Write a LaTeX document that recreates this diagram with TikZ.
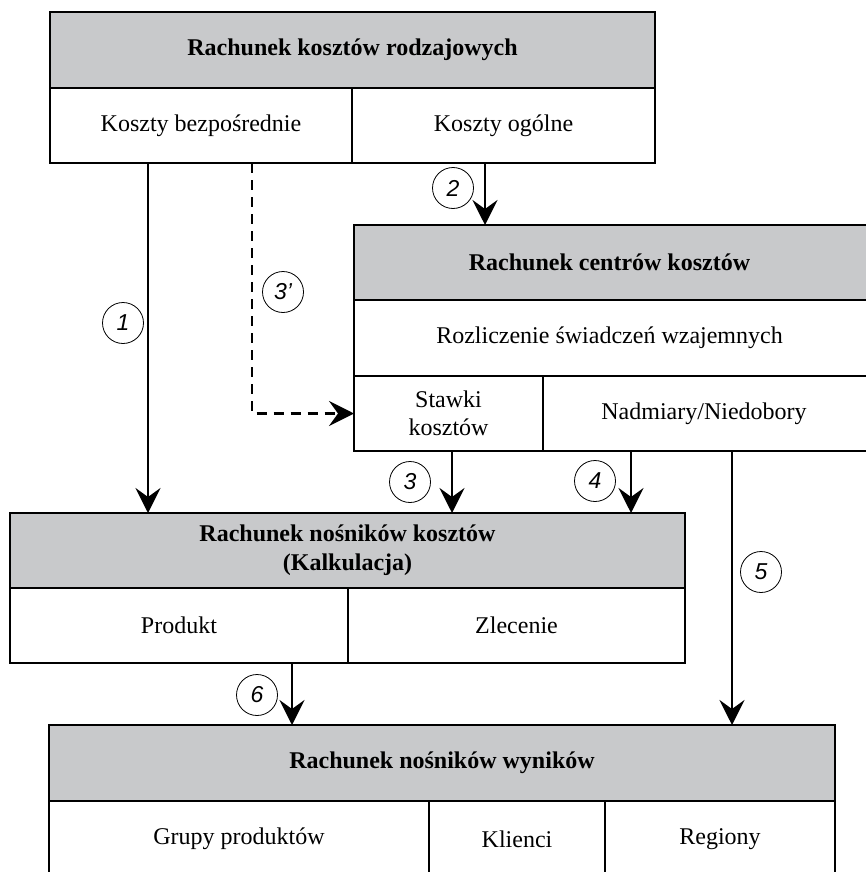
\documentclass[tikz,border=0pt]{standalone}
\usepackage{fontspec}
\setmainfont{Liberation Serif}
\newfontfamily\numfont{Liberation Sans}
\usepackage{tikz}
\usetikzlibrary{arrows.meta, positioning}
\definecolor{headgray}{HTML}{C8C9CB}

\begin{document}
\begin{tikzpicture}[
  x=1pt, y=-1pt,
  every node/.style={font=\fontsize{24}{28}\selectfont},
  cell/.style 2 args={rectangle, draw, line width=1.5pt, anchor=north west, outer sep=0pt,
              minimum width=#1, minimum height=#2, inner sep=0pt, align=center},
  headcell/.style 2 args={cell={#1}{#2}, fill=headgray, font=\fontsize{24}{29}\selectfont\bfseries},
  numcirc/.style={circle, draw, line width=0.8pt, minimum size=41pt, inner sep=0pt,
              font=\fontsize{23}{23}\numfont\itshape},
  flow/.style={-{Stealth[length=25pt, width=25pt, inset=9pt]}, line width=2.5pt},
]
  \useasboundingbox (0,0) rectangle (866,872);

  \node[headcell={605pt}{76pt}] (rkr) at (50,12) {Rachunek kosztów rodzajowych};
  \node[cell={302pt}{75pt}] (kbez) at (rkr.south west) {Koszty bezpośrednie};
  \node[cell={303pt}{75pt}] (kogo) at (kbez.north east) {Koszty ogólne};

  \node[headcell={522pt}{75pt}, xshift=0pt] (rcc) at (354,225) {\hspace*{-11pt}Rachunek centrów kosztów};
  \node[cell={522pt}{76pt}, line width=2.5pt] (rsw) at (rcc.south west) {\hspace*{-11pt}Rozliczenie świadczeń wzajemnych};
  \node[cell={189pt}{75pt}] (stk) at (rsw.south west) {Stawki\\kosztów};
  \node[cell={333pt}{75pt}] (nnd) at (stk.north east) {\hspace*{-11pt}Nadmiary/Niedobory};

  \node[headcell={675pt}{75pt}] (rnk) at (10,513) {Rachunek nośników kosztów\\(Kalkulacja)};
  \node[cell={338pt}{75pt}] (prd) at (rnk.south west) {Produkt};
  \node[cell={337pt}{75pt}] (zlc) at (prd.north east) {Zlecenie};

  \node[headcell={786pt}{76pt}] (rnw) at (49,725) {Rachunek nośników wyników};
  \node[cell={380pt}{76pt}] (grp) at (rnw.south west) {Grupy produktów};
  \node[cell={176pt}{76pt}] (kln) at (grp.north east) {Klienci};
  \node[cell={230pt}{76pt}] (rgn) at (kln.north east) {Regiony};

  \coordinate (x1) at (148,0);
  \coordinate (x2) at (485,0);
  \coordinate (x3) at (252,0);
  \coordinate (x4) at (452,0);
  \coordinate (x5) at (631,0);
  \coordinate (x6) at (732,0);
  \coordinate (x7) at (292,0);

  \draw[flow] (kbez.south -| x1) -- (rnk.north -| x1);
  \draw[flow] (kogo.south -| x2) -- (rcc.north -| x2);
  \draw[flow, dash pattern=on 10pt off 7pt] (kbez.south -| x3) |- (stk.west);
  \draw[flow] (stk.south -| x4) -- (rnk.north -| x4);
  \draw[flow] (nnd.south -| x5) -- (rnk.north -| x5);
  \draw[flow] (nnd.south -| x6) -- (rnw.north -| x6);
  \draw[flow] (prd.south -| x7) -- (rnw.north -| x7);

  \node[numcirc] (n1) at (123,323) {1};
  \node[numcirc] (n2) at (453,188) {2};
  \node[numcirc] (n3a) at (283,292) {3’};
  \node[numcirc] (n3) at (410,482) {3};
  \node[numcirc] (n4) at (595,481) {4};
  \node[numcirc] (n5) at (761,572) {5};
  \node[numcirc] (n6) at (257,695) {6};
\end{tikzpicture}
\end{document}
